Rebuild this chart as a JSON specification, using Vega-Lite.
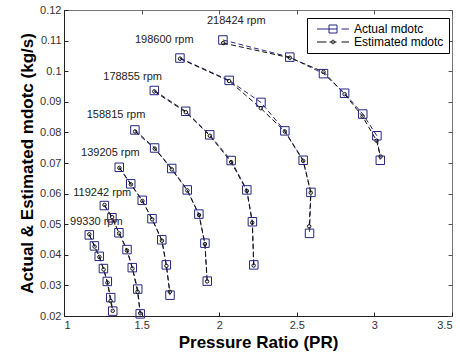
{
  "$schema": "https://vega.github.io/schema/vega-lite/v6.json",
  "autosize": {"type": "none"},
  "padding": {"left": 64, "top": 10, "right": 8, "bottom": 40},
  "width": 388,
  "height": 306,
  "background": "white",
  "config": {
    "font": "Liberation Sans",
    "view": {"stroke": "#777", "strokeWidth": 1},
    "axis": {
      "grid": false,
      "domainColor": "#222",
      "tickColor": "#222",
      "tickSize": -4,
      "labelFont": "Liberation Sans",
      "labelFontSize": 11,
      "labelColor": "#333",
      "titleFont": "Liberation Sans",
      "titleFontSize": 17,
      "titleFontWeight": "bold",
      "titleColor": "#000"
    }
  },
  "datasets": {
    "curves": [
      {"rpm": 99330, "series": "Actual mdotc", "i": 1, "pr": 1.163, "mdot": 0.0465},
      {"rpm": 99330, "series": "Actual mdotc", "i": 2, "pr": 1.196, "mdot": 0.0429},
      {"rpm": 99330, "series": "Actual mdotc", "i": 3, "pr": 1.227, "mdot": 0.0395},
      {"rpm": 99330, "series": "Actual mdotc", "i": 4, "pr": 1.254, "mdot": 0.0355},
      {"rpm": 99330, "series": "Actual mdotc", "i": 5, "pr": 1.279, "mdot": 0.0313},
      {"rpm": 99330, "series": "Actual mdotc", "i": 6, "pr": 1.301, "mdot": 0.0260},
      {"rpm": 99330, "series": "Actual mdotc", "i": 7, "pr": 1.314, "mdot": 0.0216},
      {"rpm": 119242, "series": "Actual mdotc", "i": 1, "pr": 1.260, "mdot": 0.0561},
      {"rpm": 119242, "series": "Actual mdotc", "i": 2, "pr": 1.309, "mdot": 0.0521},
      {"rpm": 119242, "series": "Actual mdotc", "i": 3, "pr": 1.354, "mdot": 0.0472},
      {"rpm": 119242, "series": "Actual mdotc", "i": 4, "pr": 1.406, "mdot": 0.0417},
      {"rpm": 119242, "series": "Actual mdotc", "i": 5, "pr": 1.440, "mdot": 0.0358},
      {"rpm": 119242, "series": "Actual mdotc", "i": 6, "pr": 1.475, "mdot": 0.0288},
      {"rpm": 119242, "series": "Actual mdotc", "i": 7, "pr": 1.491, "mdot": 0.0207},
      {"rpm": 139205, "series": "Actual mdotc", "i": 1, "pr": 1.356, "mdot": 0.0686},
      {"rpm": 139205, "series": "Actual mdotc", "i": 2, "pr": 1.430, "mdot": 0.0632},
      {"rpm": 139205, "series": "Actual mdotc", "i": 3, "pr": 1.504, "mdot": 0.0578},
      {"rpm": 139205, "series": "Actual mdotc", "i": 4, "pr": 1.567, "mdot": 0.0518},
      {"rpm": 139205, "series": "Actual mdotc", "i": 5, "pr": 1.630, "mdot": 0.0449},
      {"rpm": 139205, "series": "Actual mdotc", "i": 6, "pr": 1.659, "mdot": 0.0367},
      {"rpm": 139205, "series": "Actual mdotc", "i": 7, "pr": 1.683, "mdot": 0.0268},
      {"rpm": 158815, "series": "Actual mdotc", "i": 1, "pr": 1.457, "mdot": 0.0808},
      {"rpm": 158815, "series": "Actual mdotc", "i": 2, "pr": 1.584, "mdot": 0.0749},
      {"rpm": 158815, "series": "Actual mdotc", "i": 3, "pr": 1.694, "mdot": 0.0682},
      {"rpm": 158815, "series": "Actual mdotc", "i": 4, "pr": 1.794, "mdot": 0.0612},
      {"rpm": 158815, "series": "Actual mdotc", "i": 5, "pr": 1.869, "mdot": 0.0533},
      {"rpm": 158815, "series": "Actual mdotc", "i": 6, "pr": 1.908, "mdot": 0.0438},
      {"rpm": 158815, "series": "Actual mdotc", "i": 7, "pr": 1.923, "mdot": 0.0314},
      {"rpm": 178855, "series": "Actual mdotc", "i": 1, "pr": 1.582, "mdot": 0.0937},
      {"rpm": 178855, "series": "Actual mdotc", "i": 2, "pr": 1.784, "mdot": 0.0869},
      {"rpm": 178855, "series": "Actual mdotc", "i": 3, "pr": 1.939, "mdot": 0.0792},
      {"rpm": 178855, "series": "Actual mdotc", "i": 4, "pr": 2.077, "mdot": 0.0708},
      {"rpm": 178855, "series": "Actual mdotc", "i": 5, "pr": 2.178, "mdot": 0.0612},
      {"rpm": 178855, "series": "Actual mdotc", "i": 6, "pr": 2.214, "mdot": 0.0508},
      {"rpm": 178855, "series": "Actual mdotc", "i": 7, "pr": 2.223, "mdot": 0.0367},
      {"rpm": 198600, "series": "Actual mdotc", "i": 1, "pr": 1.747, "mdot": 0.1043},
      {"rpm": 198600, "series": "Actual mdotc", "i": 2, "pr": 2.064, "mdot": 0.0970},
      {"rpm": 198600, "series": "Actual mdotc", "i": 3, "pr": 2.269, "mdot": 0.0898},
      {"rpm": 198600, "series": "Actual mdotc", "i": 4, "pr": 2.423, "mdot": 0.0805},
      {"rpm": 198600, "series": "Actual mdotc", "i": 5, "pr": 2.541, "mdot": 0.0709},
      {"rpm": 198600, "series": "Actual mdotc", "i": 6, "pr": 2.591, "mdot": 0.0604},
      {"rpm": 198600, "series": "Actual mdotc", "i": 7, "pr": 2.582, "mdot": 0.0470},
      {"rpm": 218424, "series": "Actual mdotc", "i": 1, "pr": 2.024, "mdot": 0.1102},
      {"rpm": 218424, "series": "Actual mdotc", "i": 2, "pr": 2.455, "mdot": 0.1046},
      {"rpm": 218424, "series": "Actual mdotc", "i": 3, "pr": 2.672, "mdot": 0.0992},
      {"rpm": 218424, "series": "Actual mdotc", "i": 4, "pr": 2.808, "mdot": 0.0928},
      {"rpm": 218424, "series": "Actual mdotc", "i": 5, "pr": 2.925, "mdot": 0.0860},
      {"rpm": 218424, "series": "Actual mdotc", "i": 6, "pr": 3.016, "mdot": 0.0789},
      {"rpm": 218424, "series": "Actual mdotc", "i": 7, "pr": 3.038, "mdot": 0.0709},

      {"rpm": 99330, "series": "Estimated mdotc", "i": 1, "pr": 1.163, "mdot": 0.0467},
      {"rpm": 99330, "series": "Estimated mdotc", "i": 2, "pr": 1.197, "mdot": 0.0427},
      {"rpm": 99330, "series": "Estimated mdotc", "i": 3, "pr": 1.228, "mdot": 0.0393},
      {"rpm": 99330, "series": "Estimated mdotc", "i": 4, "pr": 1.255, "mdot": 0.0352},
      {"rpm": 99330, "series": "Estimated mdotc", "i": 5, "pr": 1.280, "mdot": 0.0309},
      {"rpm": 99330, "series": "Estimated mdotc", "i": 6, "pr": 1.300, "mdot": 0.0249},
      {"rpm": 99330, "series": "Estimated mdotc", "i": 7, "pr": 1.314, "mdot": 0.0217},
      {"rpm": 119242, "series": "Estimated mdotc", "i": 1, "pr": 1.261, "mdot": 0.0563},
      {"rpm": 119242, "series": "Estimated mdotc", "i": 2, "pr": 1.310, "mdot": 0.0523},
      {"rpm": 119242, "series": "Estimated mdotc", "i": 3, "pr": 1.355, "mdot": 0.0470},
      {"rpm": 119242, "series": "Estimated mdotc", "i": 4, "pr": 1.406, "mdot": 0.0414},
      {"rpm": 119242, "series": "Estimated mdotc", "i": 5, "pr": 1.441, "mdot": 0.0355},
      {"rpm": 119242, "series": "Estimated mdotc", "i": 6, "pr": 1.474, "mdot": 0.0279},
      {"rpm": 119242, "series": "Estimated mdotc", "i": 7, "pr": 1.491, "mdot": 0.0209},
      {"rpm": 139205, "series": "Estimated mdotc", "i": 1, "pr": 1.357, "mdot": 0.0684},
      {"rpm": 139205, "series": "Estimated mdotc", "i": 2, "pr": 1.431, "mdot": 0.0630},
      {"rpm": 139205, "series": "Estimated mdotc", "i": 3, "pr": 1.505, "mdot": 0.0576},
      {"rpm": 139205, "series": "Estimated mdotc", "i": 4, "pr": 1.568, "mdot": 0.0516},
      {"rpm": 139205, "series": "Estimated mdotc", "i": 5, "pr": 1.631, "mdot": 0.0446},
      {"rpm": 139205, "series": "Estimated mdotc", "i": 6, "pr": 1.660, "mdot": 0.0364},
      {"rpm": 139205, "series": "Estimated mdotc", "i": 7, "pr": 1.682, "mdot": 0.0279},
      {"rpm": 158815, "series": "Estimated mdotc", "i": 1, "pr": 1.458, "mdot": 0.0803},
      {"rpm": 158815, "series": "Estimated mdotc", "i": 2, "pr": 1.585, "mdot": 0.0747},
      {"rpm": 158815, "series": "Estimated mdotc", "i": 3, "pr": 1.695, "mdot": 0.0679},
      {"rpm": 158815, "series": "Estimated mdotc", "i": 4, "pr": 1.795, "mdot": 0.0610},
      {"rpm": 158815, "series": "Estimated mdotc", "i": 5, "pr": 1.870, "mdot": 0.0530},
      {"rpm": 158815, "series": "Estimated mdotc", "i": 6, "pr": 1.908, "mdot": 0.0435},
      {"rpm": 158815, "series": "Estimated mdotc", "i": 7, "pr": 1.922, "mdot": 0.0313},
      {"rpm": 178855, "series": "Estimated mdotc", "i": 1, "pr": 1.582, "mdot": 0.0934},
      {"rpm": 178855, "series": "Estimated mdotc", "i": 2, "pr": 1.785, "mdot": 0.0866},
      {"rpm": 178855, "series": "Estimated mdotc", "i": 3, "pr": 1.940, "mdot": 0.0789},
      {"rpm": 178855, "series": "Estimated mdotc", "i": 4, "pr": 2.077, "mdot": 0.0703},
      {"rpm": 178855, "series": "Estimated mdotc", "i": 5, "pr": 2.178, "mdot": 0.0609},
      {"rpm": 178855, "series": "Estimated mdotc", "i": 6, "pr": 2.213, "mdot": 0.0505},
      {"rpm": 178855, "series": "Estimated mdotc", "i": 7, "pr": 2.222, "mdot": 0.0365},
      {"rpm": 198600, "series": "Estimated mdotc", "i": 1, "pr": 1.748, "mdot": 0.1041},
      {"rpm": 198600, "series": "Estimated mdotc", "i": 2, "pr": 2.064, "mdot": 0.0968},
      {"rpm": 198600, "series": "Estimated mdotc", "i": 3, "pr": 2.268, "mdot": 0.0879},
      {"rpm": 198600, "series": "Estimated mdotc", "i": 4, "pr": 2.423, "mdot": 0.0803},
      {"rpm": 198600, "series": "Estimated mdotc", "i": 5, "pr": 2.541, "mdot": 0.0707},
      {"rpm": 198600, "series": "Estimated mdotc", "i": 6, "pr": 2.590, "mdot": 0.0603},
      {"rpm": 198600, "series": "Estimated mdotc", "i": 7, "pr": 2.580, "mdot": 0.0493},
      {"rpm": 218424, "series": "Estimated mdotc", "i": 1, "pr": 2.026, "mdot": 0.1092},
      {"rpm": 218424, "series": "Estimated mdotc", "i": 2, "pr": 2.455, "mdot": 0.1044},
      {"rpm": 218424, "series": "Estimated mdotc", "i": 3, "pr": 2.672, "mdot": 0.0998},
      {"rpm": 218424, "series": "Estimated mdotc", "i": 4, "pr": 2.808, "mdot": 0.0925},
      {"rpm": 218424, "series": "Estimated mdotc", "i": 5, "pr": 2.924, "mdot": 0.0852},
      {"rpm": 218424, "series": "Estimated mdotc", "i": 6, "pr": 3.014, "mdot": 0.0773},
      {"rpm": 218424, "series": "Estimated mdotc", "i": 7, "pr": 3.040, "mdot": 0.0721}
    ],
    "speeds": [
      {"label": "218424 rpm", "lx": 1.921, "ly": 0.1163},
      {"label": "198600 rpm", "lx": 1.457, "ly": 0.1103},
      {"label": "178855 rpm", "lx": 1.253, "ly": 0.0981},
      {"label": "158815 rpm", "lx": 1.146, "ly": 0.0858},
      {"label": "139205 rpm", "lx": 1.110, "ly": 0.0732},
      {"label": "119242 rpm", "lx": 1.060, "ly": 0.0603},
      {"label": "99330 rpm", "lx": 1.039, "ly": 0.0508}
    ]
  },
  "layer": [
    {
      "data": {"name": "curves"},
      "mark": {"type": "line", "strokeWidth": 1, "strokeDash": [5, 3]},
      "encoding": {
        "x": {
          "field": "pr", "type": "quantitative",
          "scale": {"domain": [1, 3.5], "nice": false, "zero": false},
          "axis": {
            "orient": "bottom",
            "title": "Pressure Ratio (PR)",
            "values": [1, 1.5, 2, 2.5, 3, 3.5],
            "format": "~g",
            "labelPadding": 7,
            "titlePadding": 4
          }
        },
        "y": {
          "field": "mdot", "type": "quantitative",
          "scale": {"domain": [0.02, 0.12], "nice": false, "zero": false},
          "axis": {
            "orient": "left",
            "title": "Actual & Estimated mdotc (kg/s)",
            "values": [0.02, 0.03, 0.04, 0.05, 0.06, 0.07, 0.08, 0.09, 0.1, 0.11, 0.12],
            "format": "~g",
            "labelPadding": 7,
            "titlePadding": 3
          }
        },
        "detail": {"field": "rpm", "type": "nominal"},
        "order": {"field": "i", "type": "quantitative"},
        "color": {
          "field": "series", "type": "nominal",
          "scale": {"domain": ["Actual mdotc", "Estimated mdotc"], "range": ["#262680", "#111111"]},
          "legend": {
            "title": null,
            "orient": "none",
            "legendX": 243,
            "legendY": 8,
            "fillColor": "white",
            "strokeColor": "#000",
            "padding": 5,
            "cornerRadius": 0,
            "symbolSize": 100,
            "symbolOffset": 15,
            "labelOffset": 15,
            "rowPadding": 1,
            "labelFont": "Liberation Sans",
            "labelFontSize": 12,
            "labelColor": "#000",
            "encode": {
              "symbols": {
                "update": {
                  "shape": {"signal": "datum.value === 'Actual mdotc' ? 'M-3.2,0H-0.8M-0.8,-0.8H0.8V0.8H-0.8ZM-0.8,0H0.8M1.7,0H3.2' : 'M-3.2,0H-1.3M-0.7,0H0.7M-0.35,0A0.35,0.35 0 1,0 0.35,0A0.35,0.35 0 1,0 -0.35,0M1.7,0H3.2'"},
                  "fill": {"value": "transparent"},
                  "strokeWidth": {"value": 1},
                  "strokeDash": {"value": []},
                  "size": {"value": 100}
                }
              }
            }
          }
        }
      }
    },
    {
      "data": {"name": "curves"},
      "transform": [{"filter": "datum.series === 'Actual mdotc'"}],
      "mark": {"type": "point", "shape": "square", "size": 72, "filled": false, "strokeWidth": 1, "opacity": 1},
      "encoding": {
        "x": {"field": "pr", "type": "quantitative", "axis": null},
        "y": {"field": "mdot", "type": "quantitative", "axis": null},
        "color": {"field": "series", "type": "nominal"}
      }
    },
    {
      "data": {"name": "curves"},
      "transform": [{"filter": "datum.series === 'Estimated mdotc'"}],
      "mark": {"type": "point", "shape": "circle", "size": 12, "filled": false, "strokeWidth": 1, "opacity": 1},
      "encoding": {
        "x": {"field": "pr", "type": "quantitative", "axis": null},
        "y": {"field": "mdot", "type": "quantitative", "axis": null},
        "color": {"field": "series", "type": "nominal"}
      }
    },
    {
      "data": {"name": "speeds"},
      "mark": {"type": "text", "align": "left", "baseline": "middle", "font": "Liberation Sans", "fontSize": 11, "color": "#222"},
      "encoding": {
        "x": {
          "field": "lx", "type": "quantitative",
          "axis": {"orient": "top", "values": [1, 1.5, 2, 2.5, 3, 3.5], "labels": false, "title": null, "domain": false, "tickColor": "#555"}
        },
        "y": {
          "field": "ly", "type": "quantitative",
          "axis": {"orient": "right", "values": [0.02, 0.03, 0.04, 0.05, 0.06, 0.07, 0.08, 0.09, 0.1, 0.11, 0.12], "labels": false, "title": null, "domain": false, "tickColor": "#555"}
        },
        "text": {"field": "label", "type": "nominal"}
      }
    }
  ]
}
